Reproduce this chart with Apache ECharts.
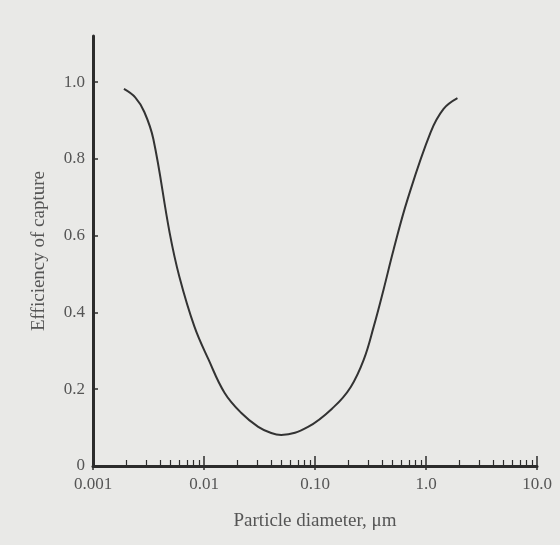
<!DOCTYPE html>
<html>
<head>
<meta charset="utf-8">
<script src="https://cdn.jsdelivr.net/npm/echarts@6/dist/echarts.min.js"></script>
<style>
html,body{margin:0;padding:0;background:#e9e9e7;}
#c{width:560px;height:545px;}
</style>
</head>
<body>
<div id="c"></div>
<script>
var diameters = [0.0019, 0.0024, 0.0029, 0.0035, 0.0049, 0.006, 0.0082, 0.011, 0.0153, 0.0217, 0.0308, 0.0403, 0.0496, 0.0865, 0.148, 0.21, 0.275, 0.338, 0.415, 0.511, 0.683, 1.1, 1.44, 1.92];
var efficiency = [0.982, 0.96, 0.922, 0.851, 0.608, 0.493, 0.363, 0.277, 0.191, 0.138, 0.102, 0.086, 0.081, 0.102, 0.154, 0.206, 0.277, 0.363, 0.46, 0.564, 0.695, 0.869, 0.93, 0.958];
var xTickLabels = ['0.001', '0.01', '0.10', '1.0', '10.0'];
var yTickValues = [0, 0.2, 0.4, 0.6, 0.8, 1.0];
var yTickLabels = ['0', '0.2', '0.4', '0.6', '0.8', '1.0'];
var decades = [0.001, 0.01, 0.1, 1];
var minorSteps = [2, 3, 4, 5, 6, 7, 8, 9];

var minorTicks = [];
decades.forEach(function (d) { minorSteps.forEach(function (m) { minorTicks.push(+(d * m).toPrecision(3)); }); });
var majorTicks = [0.01, 0.1, 1, 10];

var pts = diameters.map(function (d, i) { return [d, efficiency[i]]; });
var ink = '#2c2c2c';
var txt = '#555555';
var font = '"Liberation Serif", "DejaVu Serif", serif';

var chart = echarts.init(document.getElementById('c'));
chart.setOption({
  backgroundColor: '#e9e9e7',
  animation: false,
  grid: { left: 93, right: 23, top: 36, bottom: 79 },
  xAxis: [
    {
      type: 'log', logBase: 10, min: 0.001, max: 10,
      name: 'Particle diameter, \u03bcm', nameLocation: 'middle', nameGap: 46,
      nameTextStyle: { color: txt, fontFamily: font, fontSize: 19 },
      axisLine: { show: true, lineStyle: { color: ink, width: 3 } },
      axisTick: { show: true, inside: false, length: 4, lineStyle: { color: ink, width: 1.5 } },
      axisLabel: { color: txt, fontFamily: font, fontSize: 17, margin: 10,
        formatter: function (v, i) { return xTickLabels[i] !== undefined ? xTickLabels[i] : ''; } },
      splitLine: { show: false }, minorTick: { show: false }
    },
    {
      type: 'log', logBase: 10, min: 0.001, max: 10, position: 'bottom',
      axisLine: { show: false },
      axisTick: { show: true, inside: true, length: 6, customValues: minorTicks, lineStyle: { color: ink, width: 1.2 } },
      axisLabel: { show: false }, splitLine: { show: false }
    },
    {
      type: 'log', logBase: 10, min: 0.001, max: 10, position: 'bottom',
      axisLine: { show: false },
      axisTick: { show: true, inside: true, length: 10, customValues: majorTicks, lineStyle: { color: ink, width: 1.5 } },
      axisLabel: { show: false }, splitLine: { show: false }
    }
  ],
  yAxis: {
    type: 'value', min: 0, max: 1.12,
    name: 'Efficiency of capture', nameLocation: 'middle', nameGap: 44, nameRotate: 90,
    nameTextStyle: { color: txt, fontFamily: font, fontSize: 19 },
    axisLine: { show: true, lineStyle: { color: ink, width: 3 } },
    axisTick: { show: true, inside: true, length: 5, customValues: yTickValues, lineStyle: { color: ink, width: 1.5 } },
    axisLabel: { color: txt, fontFamily: font, fontSize: 17, margin: 8, customValues: yTickValues,
      formatter: function (v) { var i = yTickValues.indexOf(+v.toFixed(2)); return i >= 0 ? yTickLabels[i] : ''; } },
    splitLine: { show: false }
  },
  series: [{
    type: 'line', xAxisIndex: 0, data: pts, smooth: 0.4, showSymbol: false,
    lineStyle: { color: '#333', width: 2 }
  }]
});
</script>
</body>
</html>
